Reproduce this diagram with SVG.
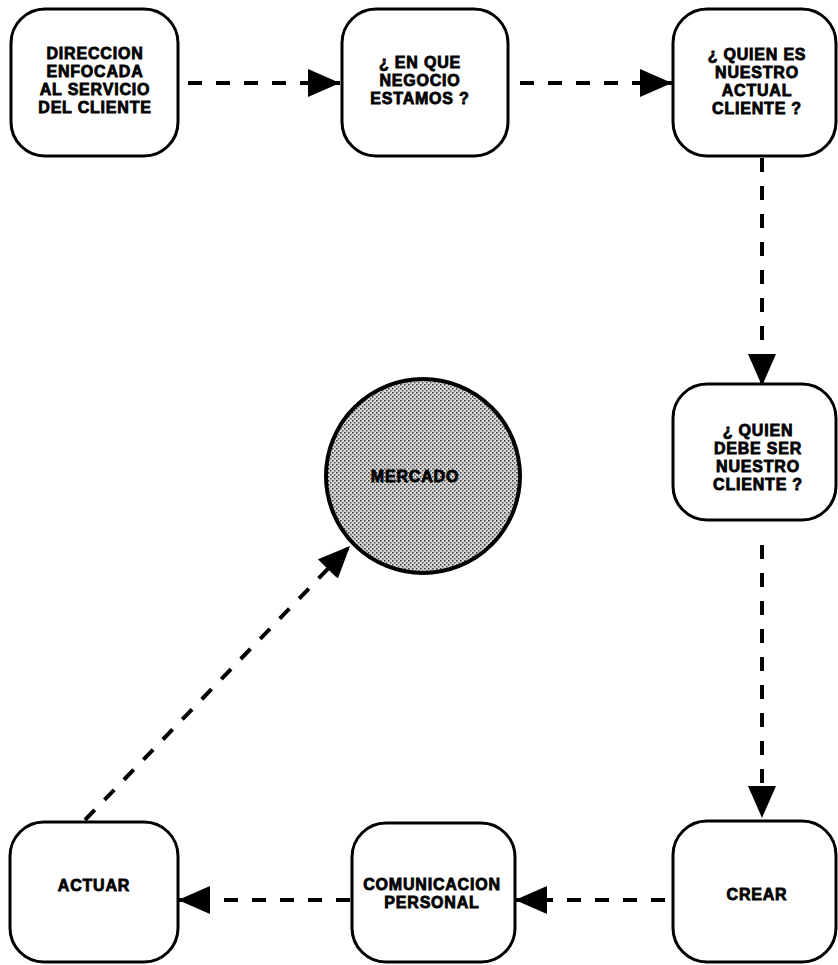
<svg xmlns="http://www.w3.org/2000/svg" width="838" height="965" viewBox="0 0 838 965">
<style>
.box{fill:#fff;stroke:#000;stroke-width:3}
.lbl{font-family:"Liberation Sans",Arial,sans-serif;font-weight:bold;font-size:16px;letter-spacing:0.8px;fill:#000;stroke:#000;stroke-width:0.8;text-anchor:middle}
.con{fill:none;stroke:#000;stroke-width:4;stroke-dasharray:14 14}
</style>
<defs>
<marker id="ah" markerUnits="userSpaceOnUse" markerWidth="34" markerHeight="30" refX="32" refY="14" orient="auto">
<path d="M0,0 L32,14 L0,28 z" fill="#000"/>
</marker>
<pattern id="dots" width="4" height="4" patternUnits="userSpaceOnUse">
<rect width="4" height="4" fill="#d8d8d8"/>
<rect x="0" y="0" width="1.5" height="1.5" fill="#333"/>
<rect x="2" y="2" width="1.5" height="1.5" fill="#555"/>
</pattern>
</defs>
<g id="connectors">
<line class="con" x1="188" y1="83" x2="340" y2="83" marker-end="url(#ah)"/>
<line class="con" x1="520" y1="83" x2="672" y2="83" marker-end="url(#ah)"/>
<line class="con" x1="762" y1="158" x2="762" y2="386" marker-end="url(#ah)"/>
<line class="con" x1="762" y1="545" x2="762" y2="818" marker-end="url(#ah)"/>
<line class="con" x1="665" y1="900" x2="515" y2="900" marker-end="url(#ah)"/>
<line class="con" x1="350" y1="900" x2="178" y2="900" marker-end="url(#ah)"/>
<line class="con" x1="85" y1="820" x2="350" y2="546" marker-end="url(#ah)"/>
</g>
<g id="n1">
<rect class="box" x="11" y="9" width="167" height="147" rx="34"/>
<text class="lbl" x="95" y="59">DIRECCION</text>
<text class="lbl" x="95" y="77">ENFOCADA</text>
<text class="lbl" x="95" y="95">AL SERVICIO</text>
<text class="lbl" x="95" y="113">DEL CLIENTE</text>
</g>
<g id="n2">
<rect class="box" x="342" y="9" width="166" height="147" rx="34"/>
<text class="lbl" x="420" y="68">¿ EN QUE</text>
<text class="lbl" x="420" y="86">NEGOCIO</text>
<text class="lbl" x="420" y="104">ESTAMOS ?</text>
</g>
<g id="n3">
<rect class="box" x="673" y="9" width="163" height="147" rx="34"/>
<text class="lbl" x="757" y="60">¿ QUIEN ES</text>
<text class="lbl" x="757" y="78">NUESTRO</text>
<text class="lbl" x="757" y="96">ACTUAL</text>
<text class="lbl" x="757" y="114">CLIENTE ?</text>
</g>
<g id="n4">
<rect class="box" x="673" y="384" width="163" height="136" rx="34"/>
<text class="lbl" x="758" y="436">¿ QUIEN</text>
<text class="lbl" x="758" y="454">DEBE SER</text>
<text class="lbl" x="758" y="472">NUESTRO</text>
<text class="lbl" x="758" y="490">CLIENTE ?</text>
</g>
<g id="mercado">
<circle cx="423" cy="476" r="97" fill="url(#dots)" stroke="#000" stroke-width="4"/>
<text class="lbl" x="415" y="482">MERCADO</text>
</g>
<g id="crear">
<rect class="box" x="673" y="821" width="163" height="141" rx="34"/>
<text class="lbl" x="757" y="900">CREAR</text>
</g>
<g id="comunicacion">
<rect class="box" x="352" y="823" width="163" height="139" rx="34"/>
<text class="lbl" x="432" y="890">COMUNICACION</text>
<text class="lbl" x="432" y="908">PERSONAL</text>
</g>
<g id="actuar">
<rect class="box" x="10" y="822" width="168" height="140" rx="34"/>
<text class="lbl" x="94" y="891">ACTUAR</text>
</g>
</svg>
